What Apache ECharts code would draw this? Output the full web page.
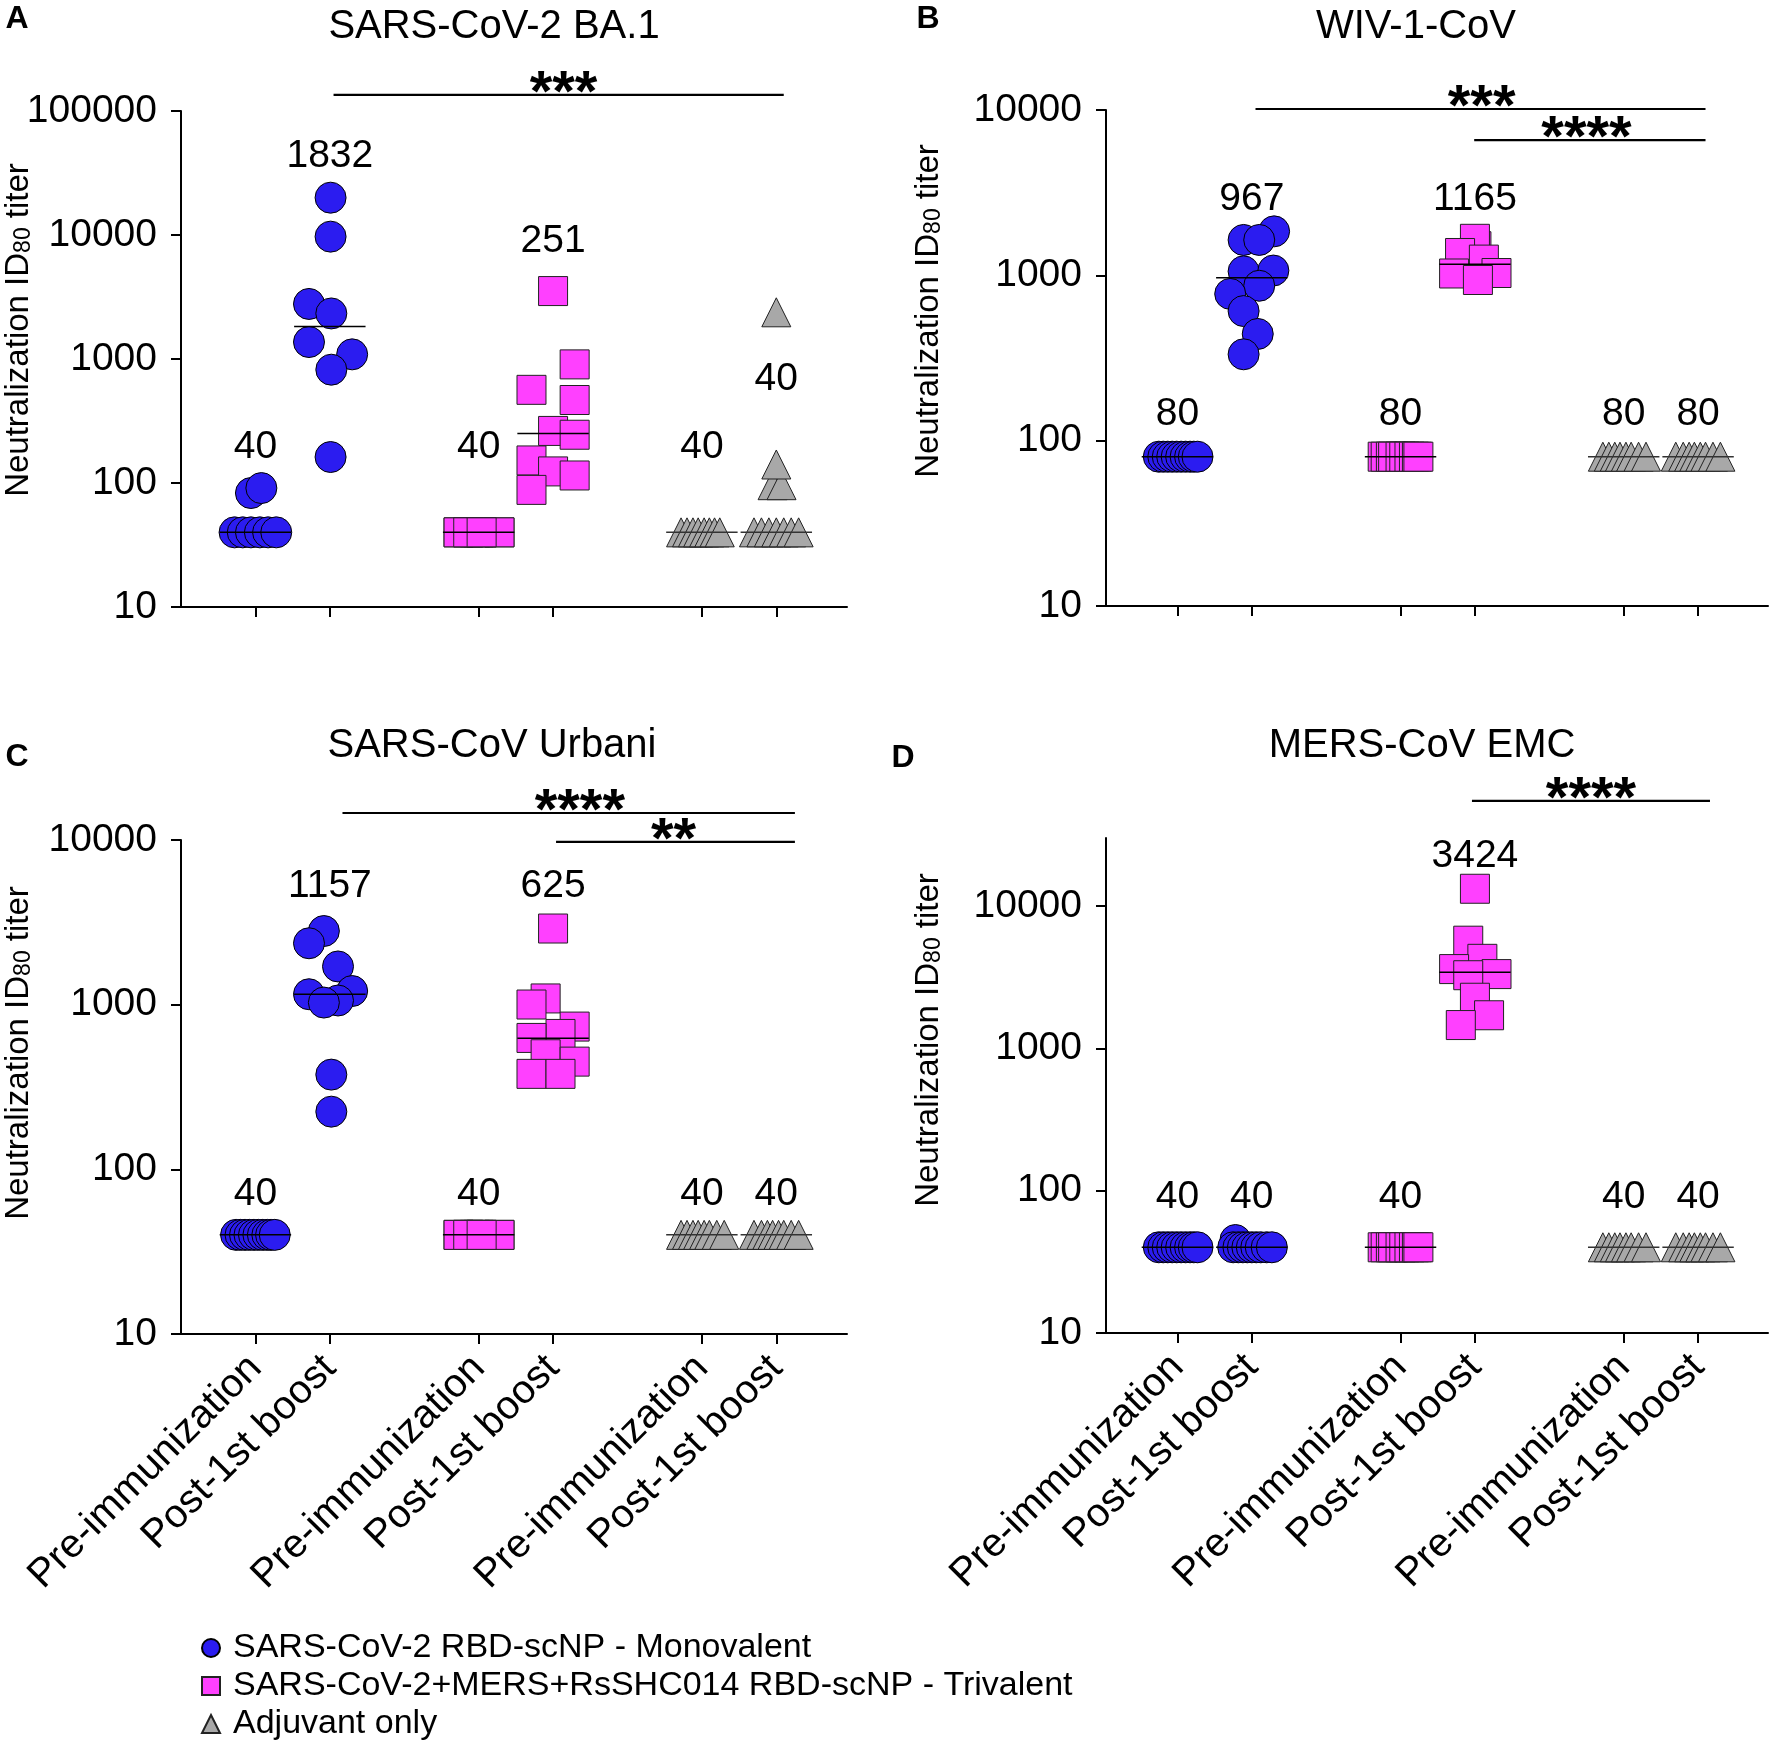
<!DOCTYPE html>
<html><head><meta charset="utf-8">
<script src="https://cdn.jsdelivr.net/npm/echarts@6/dist/echarts.min.js"></script>
<style>html,body{margin:0;padding:0;background:#fff}#c{width:1773px;height:1746px}</style>
</head><body><div id="c"></div>
<script>
// ---------------- DATA ----------------
const categories = ['Pre-immunization', 'Post-1st boost'];
const groupNames = ['SARS-CoV-2 RBD-scNP - Monovalent', 'SARS-CoV-2+MERS+RsSHC014 RBD-scNP - Trivalent', 'Adjuvant only'];
const panelTitles = ['SARS-CoV-2 BA.1', 'WIV-1-CoV', 'SARS-CoV Urbani', 'MERS-CoV EMC'];
const panelLetters = ['A', 'B', 'C', 'D'];
const yAxisName = ['Neutralization ID', '80', ' titer'];
const yTicksA = [10, 100, 1000, 10000, 100000];
const yTicksBCD = [10, 100, 1000, 10000];

// Panel A: SARS-CoV-2 BA.1
const A_monoPre = [40, 40, 40, 40, 40, 40, 83, 91];
const A_monoPost = [20000, 9700, 2780, 2330, 1370, 1090, 820, 162];
const A_triPre = [40, 40, 40, 40, 40, 40, 40, 40, 40, 40];
const A_triPost = [3530, 905, 564, 467, 263, 245, 152, 124, 115, 88];
const A_adjPre = [40, 40, 40, 40, 40, 40, 40, 40];
const A_adjPost = [40, 40, 40, 40, 40, 40, 40, 2380, 96, 96, 141];
const A_medians = [40, 1832, 40, 251, 40, 40];

// Panel B: WIV-1-CoV
const B_monoPre = [80, 80, 80, 80, 80, 80, 80, 80, 80, 80];
const B_monoPost = [1845, 1637, 1637, 1057, 1069, 865, 772, 608, 442, 333];
const B_triPre = [80, 80, 80, 80, 80, 80, 80, 80, 80, 80];
const B_triPost = [1500, 1200, 1165, 1130, 1663, 1365, 1245, 1033, 1026, 937];
const B_adjPre = [80, 80, 80, 80, 80, 80, 80, 80];
const B_adjPost = [80, 80, 80, 80, 80, 80, 80, 80];
const B_medians = [80, 967, 80, 1165, 80, 80];

// Panel C: SARS-CoV Urbani
const C_monoPre = [40, 40, 40, 40, 40, 40, 40, 40, 40, 40];
const C_monoPost = [2800, 2360, 1706, 1157, 1210, 1060, 1030, 376, 224];
const C_triPre = [40, 40, 40, 40, 40, 40, 40, 40, 40, 40];
const C_triPost = [2900, 1091, 1002, 736, 664, 628, 500, 451, 380, 380];
const C_adjPre = [40, 40, 40, 40, 40, 40, 40, 40];
const C_adjPost = [40, 40, 40, 40, 40, 40, 40, 40];
const C_medians = [40, 1157, 40, 625, 40, 40];

// Panel D: MERS-CoV EMC
const D_monoPre = [40, 40, 40, 40, 40, 40, 40, 40, 40, 40];
const D_monoPost = [45, 40, 40, 40, 40, 40, 40, 40, 40, 40];
const D_triPre = [40, 40, 40, 40, 40, 40, 40, 40, 40, 40];
const D_triPost = [3500, 13200, 5700, 4250, 3600, 3320, 3260, 2265, 1706, 1456];
const D_adjPre = [40, 40, 40, 40, 40, 40, 40, 40];
const D_adjPost = [40, 40, 40, 40, 40, 40, 40, 40];
const D_medians = [40, 40, 40, 3424, 40, 40];

// Significance annotations (stars text)
const A_sigText = ['***'];
const B_sigText = ['***', '****'];
const C_sigText = ['****', '**'];
const D_sigText = ['****'];

// ---------------- LAYOUT (positions, not data) ----------------
// horizontal jitter of each point within its category (category units)
const A_jit = {
  monoPre: [-0.28, -0.17, -0.06, 0.06, 0.17, 0.28, -0.06, 0.08],
  monoPost: [0.01, 0.01, -0.28, 0.02, -0.28, 0.3, 0.02, 0.01],
  triPre: [-0.27, -0.14, -0.05, 0, 0.04, 0.28, -0.27, 0.28, -0.14, 0.04],
  triPost: [0, 0.29, -0.29, 0.29, 0, 0.29, -0.29, 0, 0.29, -0.29],
  adjPre: [-0.28, -0.2, -0.12, -0.05, 0.03, 0.1, 0.17, 0.24, 0.31],
  adjPost: [-0.3, -0.2, -0.1, 0, 0.1, 0.2, 0.3, 0, -0.05, 0.07, 0]
};
const B_jit = {
  monoPre: [-0.25, -0.19, -0.13, -0.07, -0.01, 0.05, 0.11, 0.17, 0.22, 0.27],
  monoPost: [0.3, -0.11, 0.1, -0.11, 0.29, 0.1, -0.29, -0.11, 0.08, -0.11],
  triPre: [-0.24, -0.2, -0.13, -0.1, 0, 0.05, 0.12, 0.18, 0.22, 0.24],
  triPost: [0.02, 0, 0.05, 0.1, 0, -0.2, 0.12, 0.29, -0.28, 0.04],
  adjPre: [-0.28, -0.2, -0.12, -0.05, 0.03, 0.1, 0.2, 0.3],
  adjPost: [-0.3, -0.2, -0.12, -0.05, 0.03, 0.1, 0.2, 0.3]
};
const C_jit = {
  monoPre: [-0.26, -0.2, -0.14, -0.08, -0.02, 0.04, 0.1, 0.16, 0.21, 0.26],
  monoPost: [-0.08, -0.28, 0.11, -0.28, 0.3, 0.11, -0.08, 0.02, 0.02],
  triPre: [-0.27, -0.14, -0.05, 0, 0.04, 0.28, -0.27, 0.28, -0.14, 0.04],
  triPost: [0, -0.1, -0.29, 0.29, 0.1, -0.29, -0.1, 0.29, -0.29, 0.1],
  adjPre: [-0.28, -0.2, -0.12, -0.05, 0.03, 0.1, 0.2, 0.3],
  adjPost: [-0.3, -0.2, -0.12, -0.05, 0.03, 0.1, 0.2, 0.3]
};
const D_jit = {
  monoPre: [-0.25, -0.19, -0.13, -0.07, -0.01, 0.05, 0.11, 0.17, 0.22, 0.27],
  monoPost: [-0.22, -0.25, -0.18, -0.12, -0.06, 0.0, 0.06, 0.12, 0.2, 0.27],
  triPre: [-0.24, -0.2, -0.13, -0.1, 0, 0.05, 0.12, 0.18, 0.22, 0.24],
  triPost: [0.02, 0, -0.09, 0.1, -0.28, 0.29, -0.09, 0, 0.19, -0.19],
  adjPre: [-0.28, -0.2, -0.12, -0.05, 0.03, 0.1, 0.2, 0.3],
  adjPost: [-0.3, -0.2, -0.12, -0.05, 0.03, 0.1, 0.2, 0.3]
};
// where the median numbers are written (y in data units)
const A_labelAt = [195, 43150, 195, 8970, 195, 692];
const B_labelAt = [144, 2890, 144, 2890, 144, 144];
const C_labelAt = [70.8, 5250, 70.8, 5250, 70.8, 70.8];
const D_labelAt = [89.3, 89.3, 89.3, 22390, 89.3, 89.3];
// significance bars: [fromX, toX, yValue, textX]
const A_sigPos = [[1.05, 7.1, 135000, 4.14]];
const B_sigPos = [[1.05, 7.1, 10140, 4.09], [3.99, 7.1, 6580, 5.5]];
const C_sigPos = [[1.17, 7.25, 14590, 4.36], [4.04, 7.25, 9730, 5.62]];
const D_sigPos = [[3.96, 7.16, 54700, 5.56]];

const slots = [0, 1, 3, 4, 6, 7];
const FONT = 'Liberation Sans, Arial, Helvetica, sans-serif';
const COLORS = ['#2B1CF0', '#FF40FF', '#A8A8A8'];
const BORDERS = ['#000', '#222', '#222'];
const SYMBOLS = ['circle', 'rect', 'triangle'];
const SIZES = [31, 29, [29, 29]];

const panels = [
  { vals: [A_monoPre, A_monoPost, A_triPre, A_triPost, A_adjPre, A_adjPost], jit: A_jit, med: A_medians, labelAt: A_labelAt, sig: A_sigPos, sigText: A_sigText, yMax: 100000, ticks: yTicksA,
    grid: { left: 181, top: 111, width: 666, height: 496 }, xMin: -1, xMax: 7.95, showX: false,
    title: [494, 27], letter: [17, 19], yname: [19, 330] },
  { vals: [B_monoPre, B_monoPost, B_triPre, B_triPost, B_adjPre, B_adjPost], jit: B_jit, med: B_medians, labelAt: B_labelAt, sig: B_sigPos, sigText: B_sigText, yMax: 10000, ticks: yTicksBCD,
    grid: { left: 1106, top: 110, width: 662, height: 496 }, xMin: -0.96, xMax: 7.94, showX: false,
    title: [1416, 27], letter: [928, 19], yname: [929, 311] },
  { vals: [C_monoPre, C_monoPost, C_triPre, C_triPost, C_adjPre, C_adjPost], jit: C_jit, med: C_medians, labelAt: C_labelAt, sig: C_sigPos, sigText: C_sigText, yMax: 10000, ticks: yTicksBCD,
    grid: { left: 181, top: 840, width: 666, height: 494 }, xMin: -1, xMax: 7.95, showX: true,
    title: [492, 746], letter: [17, 757], yname: [19, 1053] },
  { vals: [D_monoPre, D_monoPost, D_triPre, D_triPost, D_adjPre, D_adjPost], jit: D_jit, med: D_medians, labelAt: D_labelAt, sig: D_sigPos, sigText: D_sigText, yMax: 30000, ticks: yTicksBCD,
    grid: { left: 1106, top: 838, width: 662, height: 495 }, xMin: -0.96, xMax: 7.94, showX: true,
    title: [1422, 746], letter: [903, 758], yname: [929, 1040] }
];
const jitKeys = ['monoPre', 'monoPost', 'triPre', 'triPost', 'adjPre', 'adjPost'];

const grids = [], xAxes = [], yAxes = [], series = [], graphics = [];
panels.forEach((p, pi) => {
  grids.push(Object.assign({ containLabel: false }, p.grid));
  xAxes.push({
    type: 'value', gridIndex: pi, min: p.xMin, max: p.xMax,
    axisLine: { show: true, onZero: false, lineStyle: { color: '#000', width: 2 } },
    axisTick: { show: true, customValues: slots, length: 10, lineStyle: { color: '#000', width: 2 } },
    axisLabel: { show: p.showX, customValues: slots, rotate: 45, margin: 28, fontSize: 40, fontFamily: FONT, color: '#000',
      formatter: v => categories[Math.round(v) % 3 === 0 ? 0 : 1] },
    splitLine: { show: false }
  });
  yAxes.push({
    type: 'log', logBase: 10, gridIndex: pi, min: 10, max: p.yMax,
    axisLine: { show: true, onZero: false, lineStyle: { color: '#000', width: 2 } },
    axisTick: { show: true, customValues: p.ticks, length: 10, lineStyle: { color: '#000', width: 2 } },
    axisLabel: { customValues: p.ticks, fontSize: 39, fontFamily: FONT, color: '#000', margin: 24, padding: [8, 0, 0, 0],
      formatter: v => String(Math.round(v)) },
    splitLine: { show: false }, minorTick: { show: false }
  });
  for (let g = 0; g < 3; g++) {
    const data = [];
    for (let k = 0; k < 2; k++) {
      const idx = g * 2 + k;
      const vals = p.vals[idx];
      const jit = p.jit[jitKeys[idx]];
      vals.forEach((v, i) => data.push([slots[idx] + (jit[i] || 0), v]));
    }
    series.push({
      type: 'scatter', name: groupNames[g], xAxisIndex: pi, yAxisIndex: pi,
      symbol: SYMBOLS[g], symbolSize: SIZES[g], data: data, z: 2,
      itemStyle: { color: COLORS[g], borderColor: BORDERS[g], borderWidth: 1, opacity: 1 },
      emphasis: { disabled: true }
    });
  }
  // median lines
  series.push({
    type: 'custom', xAxisIndex: pi, yAxisIndex: pi, z: 5, silent: true,
    data: p.med.map((m, j) => [slots[j], m]),
    encode: { x: 0, y: 1 },
    renderItem: (params, api) => {
      const x = api.value(0), v = api.value(1);
      const a = api.coord([x - 0.48, v]), b = api.coord([x + 0.48, v]);
      return { type: 'line', shape: { x1: a[0], y1: a[1], x2: b[0], y2: b[1] },
        style: { stroke: params.dataIndex >= 4 ? '#333' : '#000', lineWidth: 1.5 } };
    }
  });
  // median numbers
  series.push({
    type: 'custom', xAxisIndex: pi, yAxisIndex: pi, z: 6, silent: true,
    data: p.med.map((m, j) => [slots[j], p.labelAt[j], m]),
    encode: { x: 0, y: 1 },
    renderItem: (params, api) => {
      const c = api.coord([api.value(0), api.value(1)]);
      return { type: 'text', x: c[0], y: c[1],
        style: { text: String(api.value(2)), fill: '#000', fontSize: 39, fontFamily: FONT,
          align: 'center', verticalAlign: 'middle', textAlign: 'center', textVerticalAlign: 'middle' } };
    }
  });
  // significance bars
  series.push({
    type: 'custom', xAxisIndex: pi, yAxisIndex: pi, z: 6, silent: true, clip: false,
    data: p.sig,
    encode: { x: [0, 1], y: 2 },
    renderItem: (params, api) => {
      const a = api.coord([api.value(0), api.value(2)]);
      const b = api.coord([api.value(1), api.value(2)]);
      const t = api.coord([api.value(3), api.value(2)]);
      return { type: 'group', children: [
        { type: 'line', shape: { x1: a[0], y1: a[1], x2: b[0], y2: b[1] }, style: { stroke: '#000', lineWidth: 2.2 } },
        { type: 'text', x: t[0], y: t[1], style: { text: p.sigText[params.dataIndex], fill: '#000', fontSize: 58, fontWeight: 'bold', fontFamily: FONT,
          align: 'center', verticalAlign: 'middle', textAlign: 'center', textVerticalAlign: 'middle' } }
      ] };
    }
  });
  // titles, letters, y-axis names
  graphics.push({ type: 'text', x: p.title[0], y: p.title[1],
    style: { text: panelTitles[pi], fill: '#000', fontSize: 40, fontFamily: FONT, align: 'center', verticalAlign: 'middle', textAlign: 'center', textVerticalAlign: 'middle' } });
  graphics.push({ type: 'text', x: p.letter[0], y: p.letter[1],
    style: { text: panelLetters[pi], fill: '#000', fontSize: 32, fontWeight: 'bold', fontFamily: FONT, align: 'center', verticalAlign: 'middle', textAlign: 'center', textVerticalAlign: 'middle' } });
  graphics.push({ type: 'text', x: p.yname[0], y: p.yname[1], rotation: Math.PI / 2,
    style: { text: '{a|' + yAxisName[0] + '}{b|' + yAxisName[1] + '}{a|' + yAxisName[2] + '}',
      rich: { a: { fontSize: 33, fontFamily: FONT, fill: '#000' }, b: { fontSize: 23, fontFamily: FONT, fill: '#000', verticalAlign: 'bottom' } },
      align: 'center', verticalAlign: 'middle', textAlign: 'center', textVerticalAlign: 'middle' } });
});

const chart = echarts.init(document.getElementById('c'), null, { renderer: 'canvas' });
chart.setOption({
  backgroundColor: '#fff',
  animation: false,
  grid: grids, xAxis: xAxes, yAxis: yAxes, series: series,
  graphic: { elements: graphics },
  legend: {
    orient: 'vertical', left: 201, top: 1629, height: 150, padding: 0,
    itemWidth: 18, itemHeight: 18, itemGap: 0, selectedMode: false,
    data: [ { name: groupNames[0], icon: 'circle' }, { name: groupNames[1], icon: 'rect' }, { name: groupNames[2], icon: 'triangle' } ],
    textStyle: { fontSize: 34, fontFamily: FONT, color: '#000', lineHeight: 38, padding: [0, 0, 0, 8] }
  }
});
</script></body></html>
